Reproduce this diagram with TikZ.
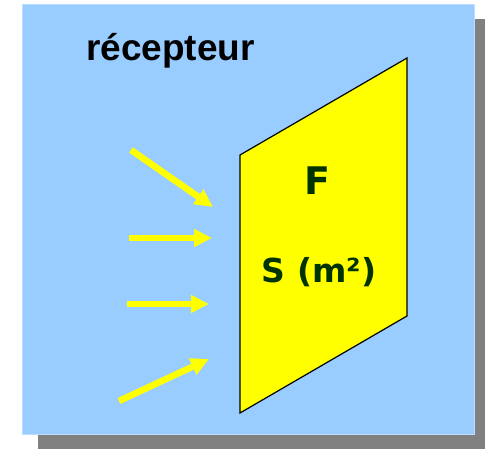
\documentclass[tikz,border=0pt]{standalone}
\usepackage{fontspec}
\setmainfont{Liberation Sans}
\newfontfamily\comicfont{DejaVu Sans}
\usetikzlibrary{arrows.meta}
\definecolor{bgblue}{RGB}{153,204,255}
\definecolor{bgedge}{RGB}{185,222,255}
\definecolor{shadowgray}{RGB}{128,128,128}
\definecolor{rayyellow}{RGB}{255,255,0}
\definecolor{darkgreen}{RGB}{0,51,0}
\tikzset{
  ray/.style={draw=rayyellow, line width=6.5pt, -{Triangle[length=18pt,width=17pt]}},
  labelF/.style={text=darkgreen, font=\comicfont\bfseries\fontsize{38}{38}\selectfont, inner sep=0pt},
  labelS/.style={text=darkgreen, font=\comicfont\bfseries\fontsize{33}{33}\selectfont, inner sep=0pt},
  title/.style={text=black, font=\bfseries\fontsize{37}{37}\selectfont, inner sep=0pt}
}
\begin{document}
\begin{tikzpicture}[x=1pt,y=-1pt]
\useasboundingbox (0,0) rectangle (485,449);
% shadow and background
\fill[shadowgray] (38,19) rectangle (490,452);
\fill[bgblue] (22,4) rectangle (475,435);
\draw[bgedge, line width=0.8pt] (22.4,4.4) rectangle (474.6,434.6);
% receiving surface
\draw[fill=rayyellow, draw=black, line width=1.2pt, line join=miter]
  (240,155) -- (407,58) -- (407,316) -- (240,413) -- cycle;
% texts
\node[title, anchor=base west] (titre) at (86,61) {récepteur};
\node[labelF, anchor=base] (F) at (317,195) {F};
\node[labelS, anchor=base] (S) at (319,283) {S (m²)};
% rays
\coordinate (a1s) at (131,150); \coordinate (a1e) at (213,207);
\coordinate (a2s) at (129,238); \coordinate (a2e) at (212,238);
\coordinate (a3s) at (127,304); \coordinate (a3e) at (209,304);
\coordinate (a4s) at (119,401); \coordinate (a4e) at (209,359);
\draw[ray] (a1s) -- (a1e);
\draw[ray] (a2s) -- (a2e);
\draw[ray] (a3s) -- (a3e);
\draw[ray] (a4s) -- (a4e);
\end{tikzpicture}
\end{document}
